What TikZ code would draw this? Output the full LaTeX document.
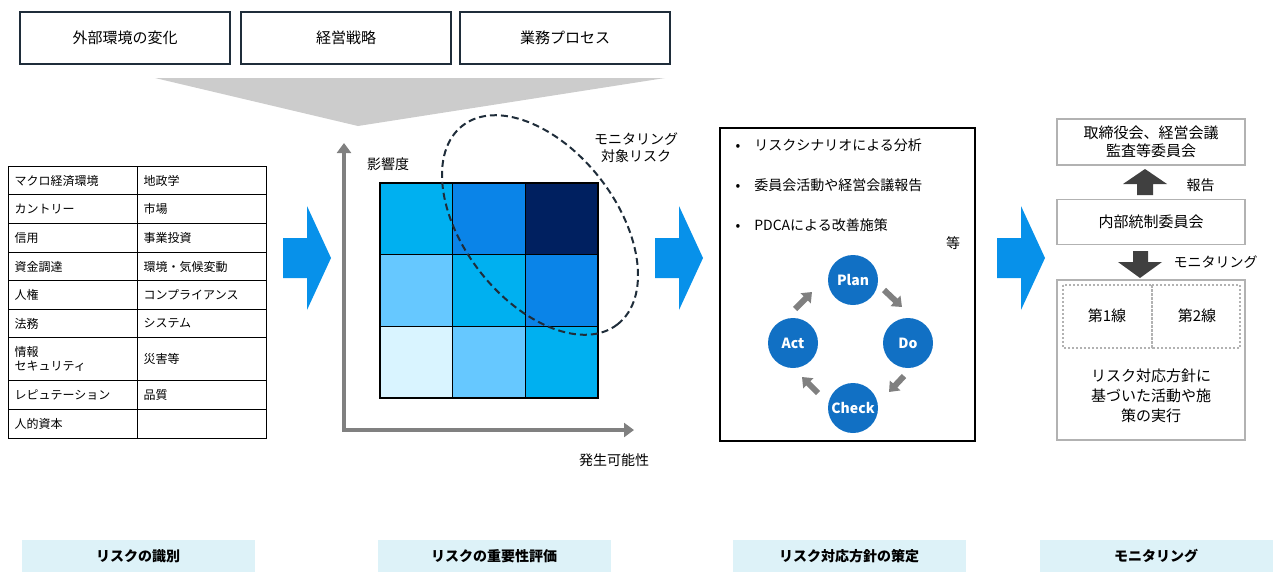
\documentclass[tikz,border=0pt]{standalone}
\usepackage{fontspec}
\setmainfont{Noto Sans CJK JP}
\usetikzlibrary{arrows.meta}
\definecolor{cA}{HTML}{00B0F0}\definecolor{cB}{HTML}{0A84E8}\definecolor{cC}{HTML}{002060}
\definecolor{cD}{HTML}{66C8FF}\definecolor{cE}{HTML}{D9F4FF}\definecolor{pd}{HTML}{1170C4}
\definecolor{band}{HTML}{DDF2F8}\definecolor{bx}{HTML}{1F2D3A}
\tikzset{topbox/.style={draw=bx,line width=1.5pt,minimum width=210pt,minimum height=52pt,font=\fontsize{15}{17}\selectfont},
 bandl/.style={fill=band,minimum width=233pt,minimum height=32pt,font=\bfseries\fontsize{14}{16}\selectfont},
 pdc/.style={circle,fill=pd,text=white,minimum size=50pt,inner sep=0,font=\bfseries\fontsize{14}{16}\selectfont},
 gbox/.style={draw=gray!60,line width=1.5pt},
 tx/.style={font=\fontsize{14}{17}\selectfont},
 cell/.style={draw=black,line width=1.2pt,anchor=north west,minimum width=129pt,text width=117pt,align=left,font=\fontsize{12}{14}\selectfont}}
\newcommand\bluearrow[2]{\fill[cB!70!cA] (#1,#2-20) -- (#1+24,#2-20) -- (#1+24,#2-52) -- (#1+48,#2) -- (#1+24,#2+52) -- (#1+24,#2+20) -- (#1,#2+20) -- cycle;}
\begin{document}
\begin{tikzpicture}[x=1pt,y=-1pt]
\useasboundingbox (0,0) rectangle (1280,582);
% top
\fill[gray!40] (155,78) -- (665,78) -- (358,126) -- cycle;
\node[topbox] (t1) at (125,38) {外部環境の変化};
\node[topbox] (t2) at (346,38) {経営戦略};
\node[topbox] (t3) at (565,38) {業務プロセス};
% table
\foreach \y/\h/\a/\b in {166/28/マクロ経済環境/地政学,194/29/カントリー/市場,223/29/信用/事業投資,252/28/資金調達/環境・気候変動,280/29/人権/コンプライアンス,309/28/法務/システム,337/43/{情報\\セキュリティ}/災害等,380/29/レピュテーション/品質,409/29/人的資本/{}}{
 \node[cell,minimum height=\h pt] at (8,\y) {\a};
 \node[cell,minimum height=\h pt] at (137,\y) {\b};}
% arrows
\bluearrow{283}{258}\bluearrow{655}{258}\bluearrow{997}{258}
% matrix
\draw[gray,line width=4pt,-{Triangle[length=10pt,width=14pt]}] (344,430) -- (344,143);
\draw[gray,line width=4pt,-{Triangle[length=10pt,width=14pt]}] (342,430) -- (634,430);
\foreach \c [count=\i from 0] in {cA,cB,cC,cD,cA,cB,cE,cD,cA}{
 \pgfmathtruncatemacro\cx{mod(\i,3)}\pgfmathtruncatemacro\cy{div(\i,3)}
 \fill[\c] (380+72.7*\cx,183+71.7*\cy) rectangle ++(72.7,71.7);}
\foreach \k in {1,2}{
 \draw[black,line width=1.5pt] (380+72.7*\k,183) -- (380+72.7*\k,398);
 \draw[black,line width=1.5pt] (380,183+71.7*\k) -- (598,183+71.7*\k);}
\draw[black,line width=1.5pt] (380,183) rectangle (598,398);
\node[tx] (ax1) at (388,164) {影響度};
\node[tx] (ax2) at (614,460) {発生可能性};
\draw[bx,line width=2pt,dash pattern=on 7pt off 4pt,rotate around={-52:(540,225)}] (540,225) ellipse (126 and 76);
\node[tx,align=center] (mon) at (636,148) {モニタリング\\対象リスク};
% box3
\draw[black,line width=2pt] (720,128) rectangle (975,441);
\foreach \y/\t in {145/リスクシナリオによる分析,185/委員会活動や経営会議報告,225/PDCAによる改善施策}{\node[tx,anchor=west] at (732,\y) {•\hspace{14pt}\t};}
\node[tx] (etc) at (953,243) {等};
\node[pdc] (pl) at (853,280) {Plan};
\node[pdc] (do) at (908,343) {Do};
\node[pdc] (ck) at (853,408) {Check};
\node[pdc] (ac) at (793,343) {Act};
\tikzset{sa/.style={gray,line width=6pt,-{Triangle[length=9pt,width=14pt]}}}
\draw[sa] (884,290) -- (902,307);
\draw[sa] (904,376) -- (889,392);
\draw[sa] (818,393) -- (802,377);
\draw[sa] (795,309) -- (812,292);
% right
\node[gbox,minimum width=188pt,minimum height=46pt,align=center,font=\fontsize{15}{18}\selectfont] (b1) at (1151,142) {取締役会、経営会議\\監査等委員会};
\node[gbox,minimum width=188pt,minimum height=45pt,font=\fontsize{15}{18}\selectfont] (b2) at (1151,222) {内部統制委員会};
\node[gbox,minimum width=188pt,minimum height=160pt] (b3) at (1151,360) {};
\fill[black!75] (1137,195) -- (1153,195) -- (1153,184) -- (1167,184) -- (1145,169) -- (1123,184) -- (1137,184) -- cycle;
\node[tx,anchor=west] (rep) at (1183,185) {報告};
\fill[black!75] (1133,251) -- (1148,251) -- (1148,262) -- (1162,262) -- (1140,278) -- (1118,262) -- (1133,262) -- cycle;
\node[tx,anchor=west] (mon2) at (1170,262) {モニタリング};
\draw[gray!60,line width=2pt,dotted] (1063,285) rectangle (1152,348);
\draw[gray!60,line width=2pt,dotted] (1152,285) rectangle (1240,348);
\node[font=\fontsize{15}{18}\selectfont] (l1) at (1107,316) {第1線};
\node[font=\fontsize{15}{18}\selectfont] (l2) at (1197,316) {第2線};
\node[align=center,font=\fontsize{15}{20}\selectfont] (act) at (1151,396) {リスク対応方針に\\基づいた活動や施\\策の実行};
% bands
\node[bandl] (s1) at (138,556) {リスクの識別};
\node[bandl] (s2) at (494,556) {リスクの重要性評価};
\node[bandl] (s3) at (849,556) {リスク対応方針の策定};
\node[bandl] (s4) at (1156,556) {モニタリング};
\end{tikzpicture}
\end{document}
